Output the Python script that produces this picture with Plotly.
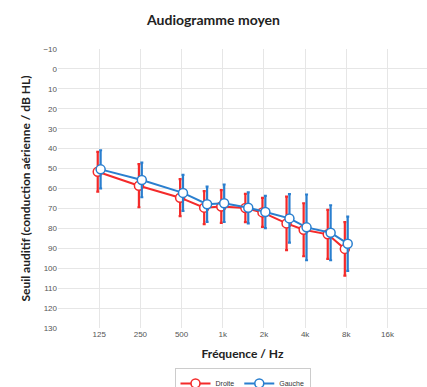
import numpy as np
import plotly.graph_objects as go

freqs = [125, 250, 500, 750, 1000, 1500, 2000, 3000, 4000, 6000, 8000]
droite = [51.6, 58.6, 64.6, 69.6, 69.0, 69.8, 72.0, 77.5, 80.7, 83.0, 90.3]
droite_err = [10.0, 10.8, 9.3, 8.3, 8.2, 7.1, 7.3, 13.4, 13.3, 12.3, 13.4]
gauche = [50.4, 55.7, 62.2, 67.9, 67.4, 69.7, 71.8, 75.0, 79.5, 82.2, 87.7]
gauche_err = [9.6, 8.7, 9.0, 8.8, 9.4, 7.8, 8.1, 12.2, 16.5, 13.8, 13.6]

tick_vals = [62.5, 125, 250, 500, 1000, 2000, 4000, 8000, 16000, 32000]
tick_text = ["", "125", "250", "500", "1k", "2k", "4k", "8k", "16k", ""]

red = "#f42a2a"
blue = "#2a7fcf"
shift = 2 ** 0.035

fig = go.Figure()
for name, vals, errs, col, f in [("Droite", droite, droite_err, red, 1 / shift),
                                 ("Gauche", gauche, gauche_err, blue, shift)]:
    x = [v * f for v in freqs]
    fig.add_trace(go.Scatter(
        x=x, y=vals, name=name, mode="lines+markers",
        line=dict(color=col, width=2),
        marker=dict(size=9, color="white", line=dict(color=col, width=1.5)),
        error_y=dict(type="data", array=errs, visible=True, color=col,
                     thickness=2.2, width=1.5),
    ))

fig.update_layout(
    width=427, height=387,
    margin=dict(l=58, r=0, t=49, b=59, autoexpand=False),
    paper_bgcolor="white", plot_bgcolor="white",
    title=dict(text="<b>Audiogramme moyen</b>", x=0.5, xanchor="center",
               y=0.948, yanchor="middle",
               font=dict(family="Lato, Open Sans, sans-serif", size=14, color="#222")),
    showlegend=True,
    legend=dict(orientation="h", x=0.5, xanchor="center", y=-0.143, yanchor="top",
                bordercolor="#cccccc", borderwidth=1, itemwidth=30,
                bgcolor="rgba(255,255,255,0)",
                font=dict(family="Liberation Sans, Arial", size=7, color="#333"),
                tracegroupgap=0),
)
lo = np.log10(62.5)
hi = np.log10(62.5 * 2 ** 8.96)
fig.update_xaxes(
    type="log", range=[lo, hi], tickmode="array", tickvals=tick_vals, ticktext=tick_text,
    showgrid=True, gridcolor="#e6e6e6", gridwidth=1, zeroline=False, showline=False,
    ticks="", tickfont=dict(family="Liberation Sans, Arial", size=8, color="#555"),
    title=dict(text="<b>Fréquence / Hz</b>", standoff=11,
               font=dict(family="Lato, Open Sans, sans-serif", size=12, color="#222")),
)
fig.update_yaxes(
    range=[130, -10], tickmode="array", tickvals=list(range(-10, 131, 10)),
    showgrid=True, gridcolor="#e6e6e6", gridwidth=1, zeroline=False, showline=False,
    ticks="", tickfont=dict(family="Liberation Sans, Arial", size=8, color="#555"),
    title=dict(text="<b>Seuil auditif (conduction aérienne / dB HL)</b>", standoff=10,
               font=dict(family="Lato, Open Sans, sans-serif", size=12, color="#222")),
)

fig.write_html("out.html")
